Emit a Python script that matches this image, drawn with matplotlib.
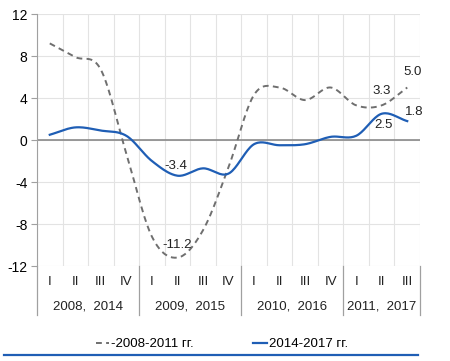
import numpy as np
import matplotlib
matplotlib.use("Agg")
import matplotlib.pyplot as plt
from matplotlib.transforms import blended_transform_factory

plt.rcParams["font.family"] = ["Liberation Sans", "DejaVu Sans"]
plt.rcParams["axes.unicode_minus"] = False

quarters = ["I", "II", "III", "IV", "I", "II", "III", "IV", "I", "II", "III", "IV", "I", "II", "III"]
year_groups = ["2008,  2014", "2009,  2015", "2010,  2016", "2011,  2017"]
group_sizes = [4, 4, 4, 3]

gdp_2008_2011 = [9.2, 7.9, 6.7, -1.3, -9.2, -11.2, -8.6, -2.6, 4.3, 5.0, 3.8, 5.0, 3.3, 3.3, 5.0]
gdp_2014_2017 = [0.5, 1.2, 0.9, 0.4, -2.0, -3.4, -2.7, -3.2, -0.4, -0.5, -0.4, 0.3, 0.4, 2.5, 1.8]

labels_old = {5: "-11.2", 13: "3.3", 14: "5.0"}
labels_new = {5: "-3.4", 13: "2.5", 14: "1.8"}

GRAY = "#6f6f6f"
BLUE = "#1f5eb5"


def smooth(values, steps=20):
    # Catmull-Rom spline through the points, like the smoothed line in the source
    y = np.asarray(values, dtype=float)
    x = np.arange(len(y), dtype=float)
    p = np.concatenate([[2 * y[0] - y[1]], y, [2 * y[-1] - y[-2]]])
    xs, ys = [], []
    for i in range(len(y) - 1):
        t = np.linspace(0, 1, steps, endpoint=False)
        p0, p1, p2, p3 = p[i], p[i + 1], p[i + 2], p[i + 3]
        seg = 0.5 * ((2 * p1) + (-p0 + p2) * t + (2 * p0 - 5 * p1 + 4 * p2 - p3) * t**2
                     + (-p0 + 3 * p1 - 3 * p2 + p3) * t**3)
        xs.append(x[i] + t)
        ys.append(seg)
    xs.append([x[-1]])
    ys.append([y[-1]])
    return np.concatenate(xs), np.concatenate(ys)


fig = plt.figure(figsize=(4.5, 3.61), dpi=100)
ax = fig.add_axes([37 / 450, 1 - 266 / 361, 383 / 450, 252 / 361])

n = len(quarters)
ax.set_xlim(-0.5, n - 0.5)
ax.set_ylim(-12, 12)
ax.set_yticks(np.arange(-12, 13, 4))
ax.set_xticks(np.arange(-0.5, n, 1.0))
ax.set_xticklabels([])
ax.tick_params(axis="x", length=0)
ax.tick_params(axis="y", length=4, color="#a0a0a0", labelsize=10, pad=3)
ax.grid(True, color="#e3e3e3", lw=0.8)
ax.set_axisbelow(True)
for side in ["top", "right", "bottom"]:
    ax.spines[side].set_visible(False)
ax.spines["left"].set_color("#a0a0a0")
ax.axhline(0, color="#8a8a8a", lw=1.2, zorder=1)

xo, yo = smooth(gdp_2008_2011)
xn, yn = smooth(gdp_2014_2017)
line_old, = ax.plot(xo, yo, color=GRAY, lw=1.4, dashes=(3, 2.2), label="-2008-2011 гг.", zorder=3)
line_new, = ax.plot(xn, yn, color=BLUE, lw=1.6, label="2014-2017 гг.", zorder=4)

for i, txt in labels_old.items():
    off = {5: (0, 5), 13: (0, 6), 14: (4, 7)}[i]
    ax.annotate(txt, (i, gdp_2008_2011[i]), xytext=off, textcoords="offset points",
                ha="center", va="bottom", fontsize=9.5, color="#222222")
for i, txt in labels_new.items():
    off = {5: (-1, 3), 13: (1, -4), 14: (5, 2)}[i]
    va = "top" if i == 13 else "bottom"
    ax.annotate(txt, (i, gdp_2014_2017[i]), xytext=off, textcoords="offset points",
                ha="center", va=va, fontsize=9.5, color="#222222")

# category axis: quarters and year groups
tr = blended_transform_factory(ax.transData, ax.transAxes)
for i, q in enumerate(quarters):
    ax.text(i, -0.062, q, transform=tr, ha="center", va="center", fontsize=9.5, color="#222222")
start = 0
for name, size in zip(year_groups, group_sizes):
    ax.text(start + size / 2 - 0.5, -0.161, name, transform=tr, ha="center", va="center",
            fontsize=9.5, color="#222222")
    start += size
bounds = np.cumsum([0] + group_sizes) - 0.5
for b in bounds:
    ax.plot([b, b], [0, -0.194], transform=tr, color="#a0a0a0", lw=0.9, clip_on=False)

fig.legend(handles=[line_old, line_new], loc="center", bbox_to_anchor=(222 / 450, 1 - 344 / 361),
           ncol=2, frameon=False, fontsize=9.5, handlelength=1.0, handletextpad=0.2,
           columnspacing=4.5)

fig.add_artist(plt.Line2D([4 / 450, 418 / 450], [1 - 355 / 361] * 2, color=BLUE, lw=1.6))

fig.savefig("out.png", dpi=100)
